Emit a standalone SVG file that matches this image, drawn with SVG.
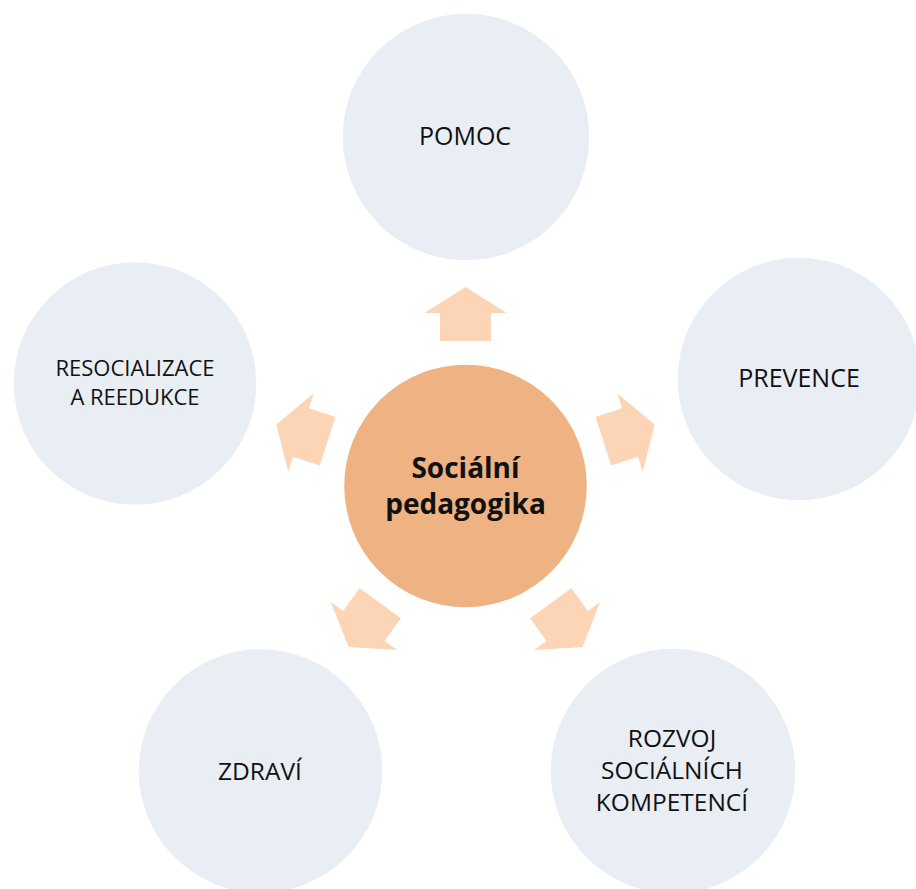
<svg xmlns="http://www.w3.org/2000/svg" width="916" height="889" viewBox="0 0 916 889">
<style>
.outer{fill:#E9EEF5;stroke:#FFFFFF;stroke-width:1.5}
.center{fill:#EEB283;stroke:#FFFFFF;stroke-width:1.5}
.arr{fill:#FBD5B5}
.lbl{font-family:"Open Sans","Noto Sans","Liberation Sans",sans-serif;fill:#111;text-anchor:middle}
.big{font-family:"Open Sans","Noto Sans","Liberation Sans",sans-serif;font-weight:bold;fill:#111;text-anchor:middle;font-size:28px}
</style>
<defs>
<polygon id="arrowUp" points="-25.5,-145 25.5,-145 25.5,-173 41,-173 0,-199 -41,-173 -25.5,-173"/>
</defs>
<rect width="916" height="889" fill="#FFFFFF"/>
<g id="connectors" transform="translate(465.5,486)">
<use href="#arrowUp" class="arr"/>
<use href="#arrowUp" class="arr" transform="rotate(72)"/>
<use href="#arrowUp" class="arr" transform="rotate(144)"/>
<use href="#arrowUp" class="arr" transform="rotate(216)"/>
<use href="#arrowUp" class="arr" transform="rotate(288)"/>
</g>
<g id="node-center">
<circle class="center" cx="465.5" cy="486" r="122"/>
<text class="big" x="465.5" y="478">Sociální</text>
<text class="big" x="465.5" y="514">pedagogika</text>
</g>
<g id="node-pomoc">
<circle class="outer" cx="466" cy="137" r="124"/>
<text class="lbl" x="465" y="145" font-size="25">POMOC</text>
</g>
<g id="node-prevence">
<circle class="outer" cx="799" cy="379" r="122"/>
<text class="lbl" x="799" y="387" font-size="25">PREVENCE</text>
</g>
<g id="node-rozvoj">
<circle class="outer" cx="673" cy="771" r="123"/>
<text class="lbl" x="672" y="747" font-size="24.5">ROZVOJ</text>
<text class="lbl" x="672" y="779" font-size="24.5">SOCIÁLNÍCH</text>
<text class="lbl" x="672" y="811" font-size="24.5">KOMPETENCÍ</text>
</g>
<g id="node-zdravi">
<circle class="outer" cx="260.5" cy="771" r="122.5"/>
<text class="lbl" x="260" y="780" font-size="24.5">ZDRAVÍ</text>
</g>
<g id="node-resocializace">
<circle class="outer" cx="135" cy="383.5" r="122"/>
<text class="lbl" x="135" y="376" font-size="22">RESOCIALIZACE</text>
<text class="lbl" x="135" y="405" font-size="22">A REEDUKCE</text>
</g>
</svg>
